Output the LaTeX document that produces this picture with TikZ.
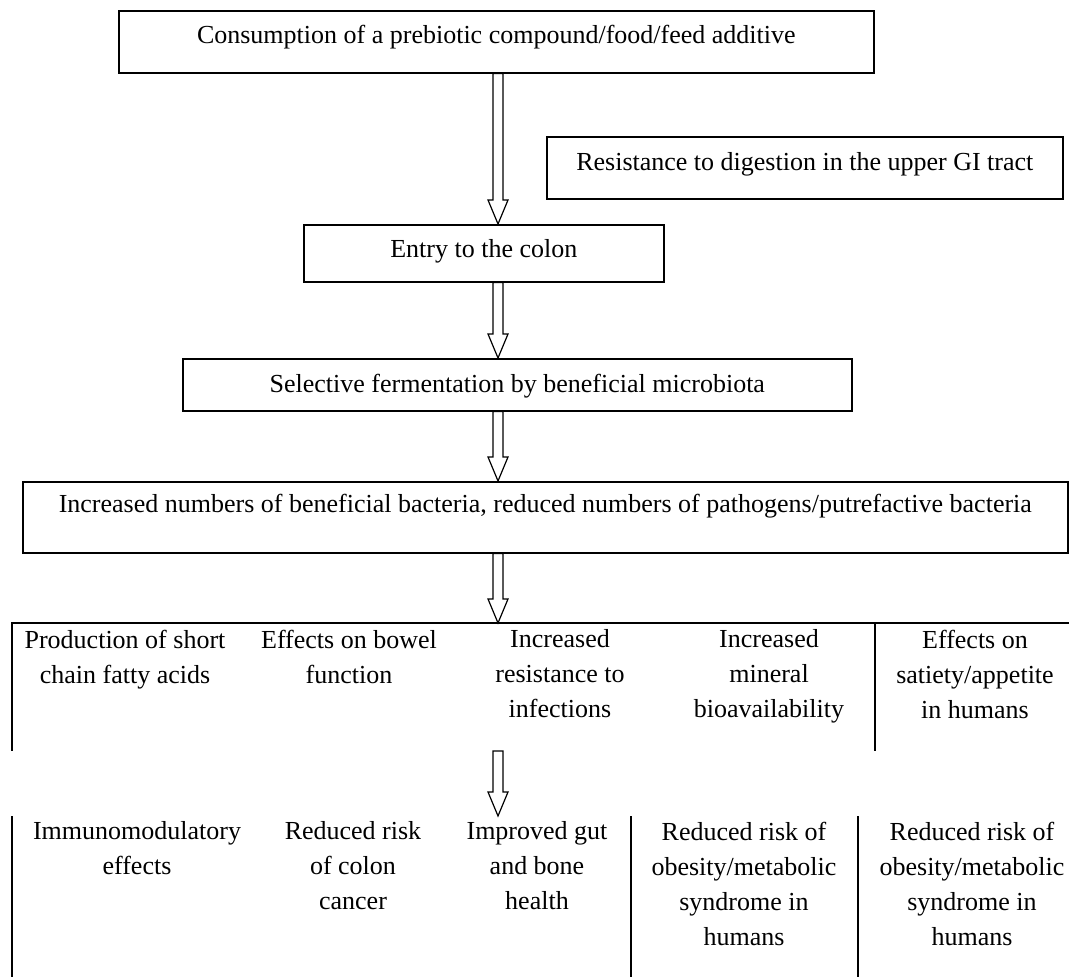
\documentclass[tikz,border=0pt]{standalone}
\usepackage{fontspec}
\setmainfont{Liberation Serif}
\usetikzlibrary{calc}
\begin{document}
\begin{tikzpicture}[x=0.5pt,y=-0.5pt,line width=0.8pt,every node/.style={font=\fontsize{13}{17.5}\selectfont},box/.style={draw,anchor=north west,inner xsep=0pt,inner ysep=0pt},cell/.style={anchor=north,align=center,inner sep=0pt},hollow/.style={line width=0.6pt,fill=white,to path={let \p1=(\tikztostart),\p2=(\tikztotarget) in (\x1-2.5pt,\y1) -- (\x1-2.5pt,\y2+12pt) -- (\x1-5pt,\y2+12pt) -- (\x1,\y2) -- (\x1+5pt,\y2+12pt) -- (\x1+2.5pt,\y2+12pt) -- (\x1+2.5pt,\y1) -- cycle}}]
\useasboundingbox (0,0) rectangle (1069,977);
\coordinate (ax) at (498,0);
\node[box,minimum width=377.5pt,text height=16.5pt,text depth=14.5pt] (intake) at (118,10) {Consumption of a prebiotic compound/food/feed additive};
\node[box,minimum width=258pt,text height=17pt,text depth=14pt] (resist) at (546,136) {Resistance to digestion in the upper GI tract};
\node[box,minimum width=180pt,text height=16.5pt,text depth=12pt] (colon) at (303,224) {Entry to the colon};
\node[box,minimum width=334.5pt,text height=17pt,text depth=9pt] (ferm) at (182,358) {Selective fermentation by beneficial microbiota};
\node[box,minimum width=522.5pt,text height=15.5pt,text depth=20pt] (bact) at (22,481) {Increased numbers of beneficial bacteria, reduced numbers of pathogens/putrefactive bacteria};
\coordinate (r1top) at (498,623);\coordinate (r1bot) at (498,751);\coordinate (r2top) at (498,816);
\draw (1069,623) -- (12,623) -- (12,751);\draw (875,623) -- (875,751);
\foreach \x in {12,631,858} \draw (\x,816) -- (\x,977);
\node[cell] (scfa) at (125,629) {Production of short\\chain fatty acids};
\node[cell] (bowel) at (349,629) {Effects on bowel\\function};
\node[cell] (infect) at (560,629) {Increased\\resistance to\\infections};
\node[cell] (mineral) at (769,629) {Increased\\mineral\\bioavailability};
\node[cell] (satiety) at (975,629) {Effects on\\satiety/appetite\\in humans};
\node[cell] (immuno) at (137,821) {Immunomodulatory\\effects};
\node[cell] (cancer) at (353,821) {Reduced risk\\of colon\\cancer};
\node[cell] (gutbone) at (537,821) {Improved gut\\and bone\\health};
\node[cell] (obesA) at (744,821) {Reduced risk of\\obesity/metabolic\\syndrome in\\humans};
\node[cell] (obesB) at (972,821) {Reduced risk of\\obesity/metabolic\\syndrome in\\humans};
\draw[hollow] (intake.south -| ax) to (colon.north -| ax);
\draw[hollow] (colon.south -| ax) to (ferm.north -| ax);
\draw[hollow] (ferm.south -| ax) to (bact.north -| ax);
\draw[hollow] (bact.south -| ax) to (r1top);
\draw[hollow] (r1bot) to (r2top);
\end{tikzpicture}
\end{document}
